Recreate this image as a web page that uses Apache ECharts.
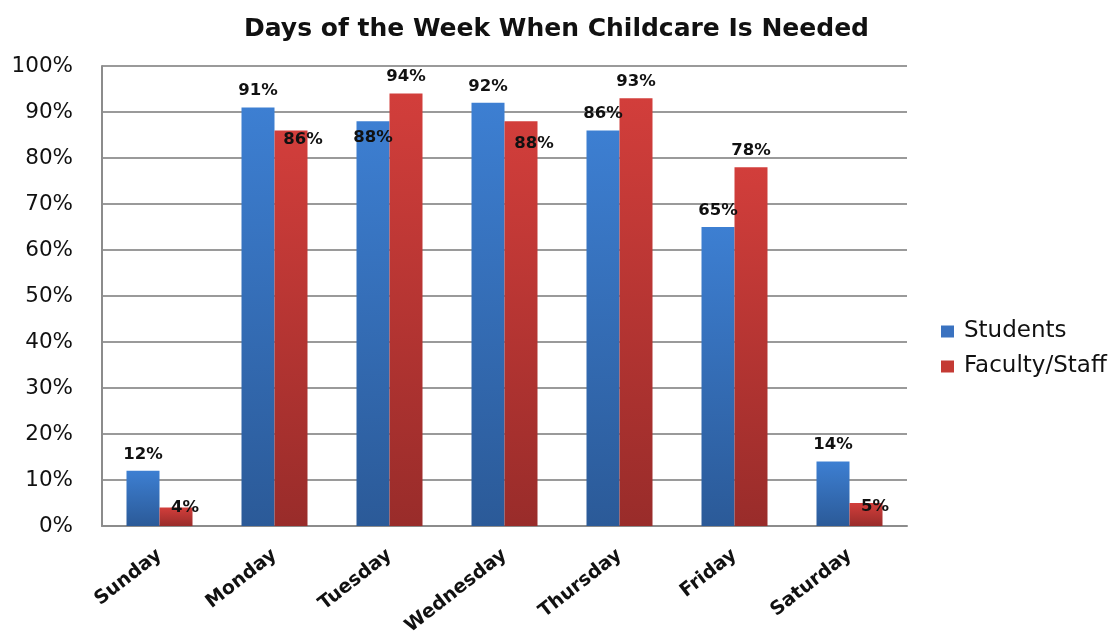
<!DOCTYPE html>
<html>
<head>
<meta charset="utf-8">
<title>Days of the Week When Childcare Is Needed</title>
<script src="https://cdn.jsdelivr.net/npm/echarts@6/dist/echarts.min.js"></script>
<style>
  html, body { margin: 0; padding: 0; background: #ffffff; }
  #chart { width: 1113px; height: 631px; }
</style>
</head>
<body>
<div id="chart"></div>
<script>
// Survey results: share of respondents needing childcare on each day
const days = ['Sunday', 'Monday', 'Tuesday', 'Wednesday', 'Thursday', 'Friday', 'Saturday'];
const studentsPct = [12, 91, 88, 92, 86, 65, 14];
const facultyPct = [4, 86, 94, 88, 93, 78, 5];
const seriesNames = ['Students', 'Faculty/Staff'];

// Labels that would collide with a neighbouring bar are nudged (dx, dy in px)
const studentNudge = { 2: [0, 33] };
const facultyNudge = { 0: [9, 17], 1: [12, 26], 3: [13, 39], 6: [9, 20] };

const FONT = 'DejaVu Sans';

function withLabels(values, nudges) {
  return values.map(function (v, i) {
    const item = { value: v };
    if (nudges[i]) item.label = { offset: nudges[i] };
    return item;
  });
}

const blueFill = new echarts.graphic.LinearGradient(0, 0, 0, 1, [
  { offset: 0, color: '#3d7fd2' },
  { offset: 1, color: '#2b5a98' }
]);
const redFill = new echarts.graphic.LinearGradient(0, 0, 0, 1, [
  { offset: 0, color: '#d23e3b' },
  { offset: 1, color: '#992c2a' }
]);

const barLabel = {
  show: true,
  position: 'top',
  distance: 8,
  formatter: '{c}%',
  color: '#111111',
  fontFamily: FONT,
  fontWeight: 'bold',
  fontSize: 16.5
};

const chart = echarts.init(document.getElementById('chart'), null, { renderer: 'canvas' });

chart.setOption({
  animation: false,
  backgroundColor: '#ffffff',
  title: {
    text: 'Days of the Week When Childcare Is Needed',
    left: 'center',
    top: 12,
    textStyle: {
      fontFamily: FONT,
      fontWeight: 'bold',
      fontSize: 25,
      color: '#111111'
    }
  },
  legend: {
    orient: 'vertical',
    left: 936,
    top: 315,
    itemWidth: 13,
    itemHeight: 12,
    itemGap: 12,
    icon: 'rect',
    data: [
      { name: seriesNames[0], itemStyle: { color: '#3a72c0' } },
      { name: seriesNames[1], itemStyle: { color: '#c43a34' } }
    ],
    textStyle: {
      fontFamily: FONT,
      fontSize: 23,
      color: '#111111',
      padding: [0, 0, 0, 5]
    }
  },
  grid: {
    left: 102,
    right: 206,
    top: 66,
    bottom: 105,
    containLabel: false,
    outerBoundsMode: 'none'
  },
  xAxis: {
    type: 'category',
    data: days,
    axisLine: { show: true, lineStyle: { color: '#8c8c8c', width: 2 } },
    axisTick: { show: false },
    axisLabel: {
      rotate: 38,
      margin: 27,
      interval: 0,
      fontFamily: FONT,
      fontWeight: 'bold',
      fontSize: 19,
      color: '#111111'
    }
  },
  yAxis: {
    type: 'value',
    min: 0,
    max: 100,
    interval: 10,
    axisLine: { show: true, lineStyle: { color: '#8c8c8c', width: 2 } },
    axisTick: { show: false },
    axisLabel: {
      formatter: '{value}%',
      margin: 29,
      fontFamily: FONT,
      fontSize: 21.5,
      color: '#111111'
    },
    splitLine: { show: true, lineStyle: { color: '#9a9a9a', width: 2 } }
  },
  series: [
    {
      name: seriesNames[0],
      type: 'bar',
      barWidth: 33,
      barGap: '0%',
      data: withLabels(studentsPct, studentNudge),
      itemStyle: { color: blueFill },
      label: barLabel
    },
    {
      name: seriesNames[1],
      type: 'bar',
      barWidth: 33,
      barGap: '0%',
      data: withLabels(facultyPct, facultyNudge),
      itemStyle: { color: redFill },
      label: barLabel
    }
  ]
});
</script>
</body>
</html>
